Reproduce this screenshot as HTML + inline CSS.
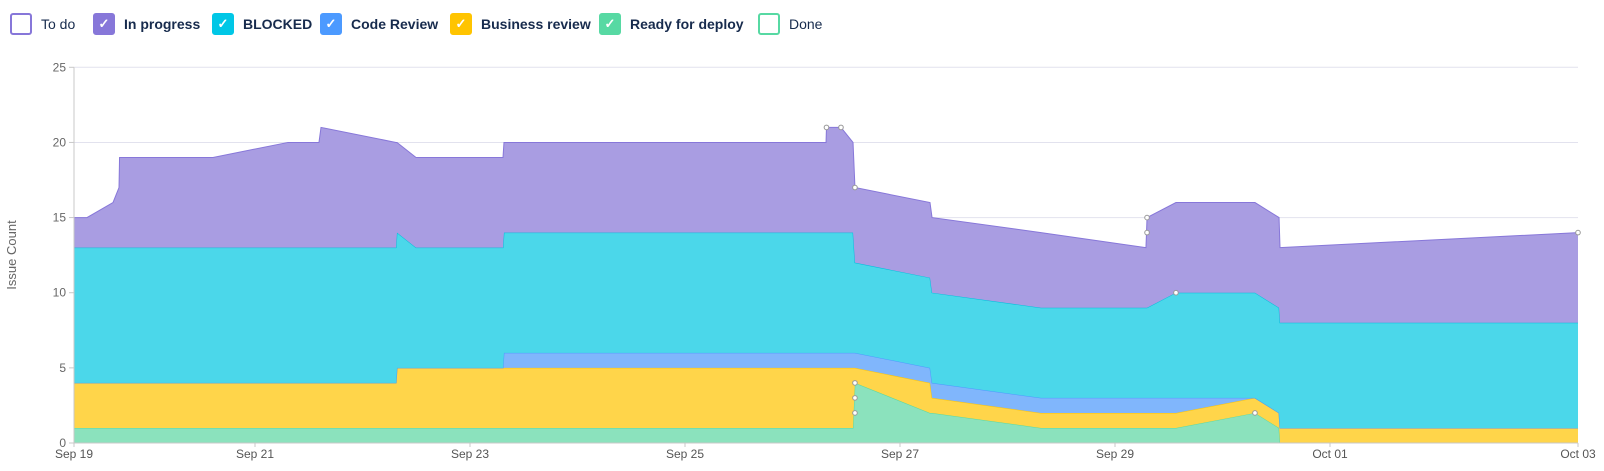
<!DOCTYPE html>
<html><head><meta charset="utf-8"><style>
body{margin:0;width:1604px;height:471px;background:#fff;font-family:"Liberation Sans",sans-serif;overflow:hidden;position:relative}
.lg{position:absolute;top:13px;height:22px;display:flex;align-items:center;font-size:14px;color:#172b4d}
.bx{width:18px;height:18px;border:2px solid;border-radius:3px;margin-right:9px;display:flex;align-items:center;justify-content:center;color:#fff;font-size:13px}
</style></head><body>
<div class="lg" style="left:10px"><div class="bx" style="border-color:#8777d9"></div><span>To do</span></div>
<div class="lg" style="left:93px;font-weight:bold"><div class="bx" style="border-color:#8777d9;background:#8777d9">✓</div><span>In progress</span></div>
<div class="lg" style="left:212px;font-weight:bold"><div class="bx" style="border-color:#00c7e6;background:#00c7e6">✓</div><span>BLOCKED</span></div>
<div class="lg" style="left:320px;font-weight:bold"><div class="bx" style="border-color:#4c9aff;background:#4c9aff">✓</div><span>Code Review</span></div>
<div class="lg" style="left:450px;font-weight:bold"><div class="bx" style="border-color:#ffc400;background:#ffc400">✓</div><span>Business review</span></div>
<div class="lg" style="left:599px;font-weight:bold"><div class="bx" style="border-color:#57d9a3;background:#57d9a3">✓</div><span>Ready for deploy</span></div>
<div class="lg" style="left:758px"><div class="bx" style="border-color:#57d9a3"></div><span>Done</span></div>
<svg id="chart" width="1604" height="471" style="position:absolute;left:0;top:0"></svg>
<script>
const times=[0.316,0.437,0.679,0.735,0.740,1.609,2.307,2.595,2.614,3.312,3.321,3.498,4.307,4.316,7.312,7.316,7.451,7.563,7.581,8.279,8.298,9.312,10.288,10.298,10.567,11.302,11.526,11.535,14.307];
const readyForDeploy=[1,1,1,1,1,1,1,1,1,1,1,1,1,1,1,1,1,1,4,2,2,1,1,1,1,2,1,0,0];
const businessReview=[3,3,3,3,3,3,3,3,3,3,4,4,4,4,4,4,4,4,1,2,1,1,1,1,1,1,1,1,1];
const codeReview=[0,0,0,0,0,0,0,0,0,0,0,0,0,1,1,1,1,1,1,1,1,1,1,1,1,0,0,0,0];
const blocked=[9,9,9,9,9,9,9,9,9,9,9,8,8,8,8,8,8,8,6,6,6,6,6,6,7,7,7,7,7];
const inProgress=[2,2,3,4,6,6,7,7,8,7,6,6,6,6,6,7,7,6,5,5,5,5,4,6,6,6,6,5,6];
const yTicks=[0,5,10,15,20,25];
const xTickDays=[0.316,2,4,6,8,10,12,14.307];
const xTickLabels=["Sep 19","Sep 21","Sep 23","Sep 25","Sep 27","Sep 29","Oct 01","Oct 03"];
const markerTimes=[7.316,7.451,7.581,7.581,7.581,7.581,10.298,10.298,10.567,11.302,14.307];
const markerValues=[21,21,17,4,3,2,15,14,10,2,14];

const NS="http://www.w3.org/2000/svg";
const svg=document.getElementById('chart');
const X0=74,X1=1578,Y0=443,Y1=67.3;
const x=t=>40+t*107.5;
const y=v=>Y0-(v/25)*(Y0-Y1);
function mk(tag,attrs){const e=document.createElementNS(NS,tag);for(const k in attrs)e.setAttribute(k,attrs[k]);svg.appendChild(e);return e;}
yTicks.forEach(v=>{
  const g=mk('line',{x1:X0,x2:X1,y1:y(v),y2:y(v),stroke:v===0?'#c8c8c8':'#e2e2ee','stroke-width':1});
  
  
  const tk=mk('line',{x1:X0-5,x2:X0,y1:y(v),y2:y(v),stroke:'#c8c8c8'});
  
  
  const t=mk('text',{x:X0-8,y:y(v)+4,'text-anchor':'end','font-size':12,fill:'#666','font-family':'Liberation Sans, sans-serif'});
  t.textContent=v;
  
  
});
const series=[
 {d:readyForDeploy,f:'#8be2bd',s:'#57d9a3',n:'area-ready-for-deploy'},
 {d:businessReview,f:'#ffd54a',s:'#ffc400',n:'area-business-review'},
 {d:codeReview,f:'#80b6fc',s:'#4c9aff',n:'area-code-review'},
 {d:blocked,f:'#4bd7ea',s:'#00c0de',n:'area-blocked'},
 {d:inProgress,f:'#a99de2',s:'#8777d9',n:'area-in-progress'}];
let base=times.map(()=>0);
series.forEach(s=>{
  const top=base.map((b,i)=>b+s.d[i]);
  let p='M'+times.map((t,i)=>x(t)+','+y(top[i])).join('L');
  p+='L'+times.slice().reverse().map((t,j)=>{const i=times.length-1-j;return x(t)+','+y(base[i]);}).join('L')+'Z';
  const a=mk('path',{d:p,fill:s.f,stroke:'none'});
  
  
  const l=mk('path',{d:'M'+times.map((t,i)=>x(t)+','+y(top[i])).join('L'),fill:'none',stroke:s.s,'stroke-width':1});
  
  
  base=top;
});
mk('line',{x1:X0,x2:X0,y1:Y1,y2:Y0,stroke:'#c8c8c8'});
mk('line',{x1:X0,x2:X1,y1:Y0,y2:Y0,stroke:'#c8c8c8'});
xTickDays.forEach((d,i)=>{
  const xx=Math.min(Math.max(x(d),X0),X1);
  const tk=mk('line',{x1:xx,x2:xx,y1:Y0,y2:Y0+4,stroke:'#c8c8c8'});
  
  
  const t=mk('text',{x:xx,y:Y0+15,'text-anchor':'middle','font-size':12,fill:'#555','font-family':'Liberation Sans, sans-serif'});
  t.textContent=xTickLabels[i];
  
  
});
markerTimes.forEach((t,i)=>{
  const c=mk('circle',{cx:x(t),cy:y(markerValues[i]),r:2.3,fill:'#fff',stroke:'#999','stroke-width':1});
  
  
});
const yt=mk('text',{x:0,y:0,transform:'translate(16,255) rotate(-90)','text-anchor':'middle','font-size':13,fill:'#666','font-family':'Liberation Sans, sans-serif'});
yt.textContent='Issue Count';


</script>
</body></html>
